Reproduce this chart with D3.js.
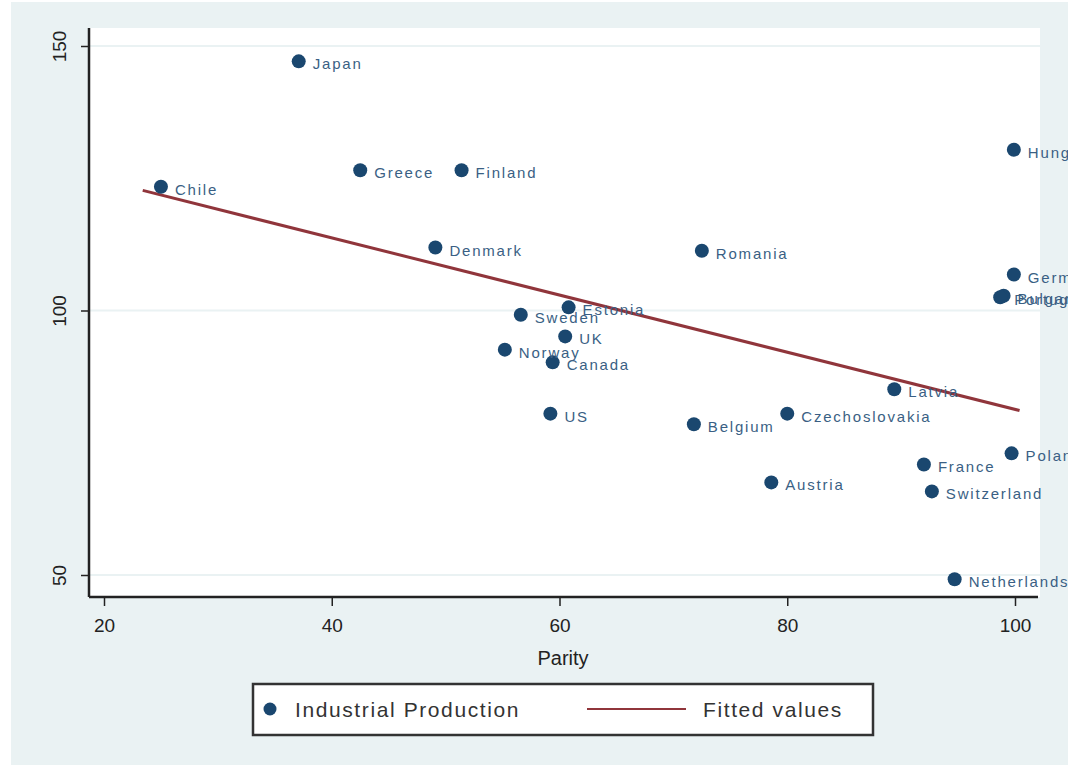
<!DOCTYPE html>
<html><head><meta charset="utf-8">
<script src="https://cdn.jsdelivr.net/npm/d3@7"></script>
<style>body{margin:0;background:#fff;}svg{display:block;}</style>
</head><body>
<svg id="chart" width="1068" height="767"></svg>
<script>
const countries = ["Japan","Greece","Finland","Chile","Hungary","Denmark","Romania","Germany","Bulgaria","Portugal","Estonia","Sweden","UK","Norway","Canada","Latvia","US","Czechoslovakia","Belgium","Poland","France","Austria","Switzerland","Netherlands"];
const parity = [37.1,42.5,51.4,25.0,99.9,49.1,72.5,99.9,99.0,98.7,60.8,56.6,60.5,55.2,59.4,89.4,59.2,80.0,71.8,99.7,92.0,78.6,92.7,94.7];
const production = [147.1,126.5,126.5,123.4,130.4,111.9,111.3,106.8,102.8,102.5,100.6,99.2,95.1,92.6,90.2,85.1,80.5,80.5,78.5,73.0,70.9,67.5,65.8,49.2];
const fittedParity = [23.4, 100.4];
const fittedValues = [122.7, 81.1];
const xTicks = [20,40,60,80,100];
const yTicks = [50,100,150];
const xTitle = "Parity";
const legendLabels = ["Industrial Production","Fitted values"];

const svg = d3.select("#chart");
const navy = "#1a476f", maroon = "#90353b", bg = "#eaf2f3";
const font = "Liberation Sans, Arial, sans-serif";
svg.append("rect").attr("x",11).attr("y",2).attr("width",1057).attr("height",763).attr("fill",bg);

const plotL = 90, plotR = 1040, plotT = 28, plotB = 597;
svg.append("rect").attr("x",plotL).attr("y",plotT).attr("width",plotR-plotL).attr("height",plotB-plotT).attr("fill","#fff");

const x = d3.scaleLinear().domain([20,100]).range([104,1015]);
const y = d3.scaleLinear().domain([50,150]).range([575,46]);

// gridlines
svg.append("g").selectAll("line").data(yTicks).join("line")
  .attr("x1",plotL).attr("x2",plotR).attr("y1",d=>y(d)).attr("y2",d=>y(d))
  .attr("stroke",bg).attr("stroke-width",2);

// fitted line
svg.append("path").datum(fittedParity.map((p,i)=>[p,fittedValues[i]]))
  .attr("d", d3.line().x(d=>x(d[0])).y(d=>y(d[1])))
  .attr("stroke",maroon).attr("stroke-width",3).attr("fill","none");

// points
const pts = countries.map((c,i)=>({c, p:parity[i], v:production[i]}));
svg.append("g").selectAll("circle").data(pts).join("circle")
  .attr("cx",d=>x(d.p)).attr("cy",d=>y(d.v)).attr("r",7).attr("fill",navy);
svg.append("g").selectAll("text").data(pts).join("text")
  .attr("x",d=>x(d.p)+14).attr("y",d=>y(d.v)+8)
  .attr("font-family",font).attr("font-size",15)
  .attr("letter-spacing","1.8px").attr("fill","#3a5f84").text(d=>d.c);

// axes
const xAxis = svg.append("g").attr("transform",`translate(0,${plotB})`)
  .call(d3.axisBottom(x).tickValues(xTicks).tickSize(9).tickPadding(9).tickFormat(d3.format("d")));
xAxis.select(".domain").remove();
xAxis.append("line").attr("x1",plotL-1).attr("x2",1038).attr("y1",0).attr("y2",0).attr("stroke","#222").attr("stroke-width",2.5);
xAxis.selectAll(".tick line").attr("stroke","#222").attr("stroke-width",1.5);
xAxis.selectAll(".tick text").attr("font-family",font).attr("font-size",19).attr("fill","#222").attr("dy","0.9em");

const yAxis = svg.append("g").attr("transform",`translate(${plotL-1},0)`)
  .call(d3.axisLeft(y).tickValues(yTicks).tickSize(8).tickPadding(0).tickFormat(d3.format("d")));
yAxis.select(".domain").remove();
yAxis.append("line").attr("x1",0).attr("x2",0).attr("y1",plotT).attr("y2",plotB).attr("stroke","#222").attr("stroke-width",2.5);
yAxis.selectAll(".tick line").attr("stroke","#222").attr("stroke-width",1.5);
yAxis.selectAll(".tick text").attr("font-family",font).attr("font-size",19).attr("fill","#222")
  .attr("x",null).attr("dy",null).attr("text-anchor","middle")
  .attr("transform","translate(-30,0) rotate(-90)").attr("y",0).attr("dominant-baseline","central");

svg.append("text").attr("x",563).attr("y",665).attr("text-anchor","middle")
  .attr("font-family",font).attr("font-size",20).attr("fill","#222").text(xTitle);

// legend
const lg = svg.append("g");
lg.append("rect").attr("x",253).attr("y",684).attr("width",620).attr("height",51)
  .attr("fill","#fff").attr("stroke","#333").attr("stroke-width",2.5);
lg.append("circle").attr("cx",270).attr("cy",709).attr("r",6.5).attr("fill",navy);
lg.append("text").attr("x",295).attr("y",717).attr("font-family",font)
  .attr("font-size",21).attr("letter-spacing","1.6px").attr("fill","#333").text(legendLabels[0]);
lg.append("line").attr("x1",587).attr("x2",686).attr("y1",709).attr("y2",709).attr("stroke",maroon).attr("stroke-width",2);
lg.append("text").attr("x",703).attr("y",717).attr("font-family",font)
  .attr("font-size",21).attr("letter-spacing","1.6px").attr("fill","#333").text(legendLabels[1]);
</script>
</body></html>
